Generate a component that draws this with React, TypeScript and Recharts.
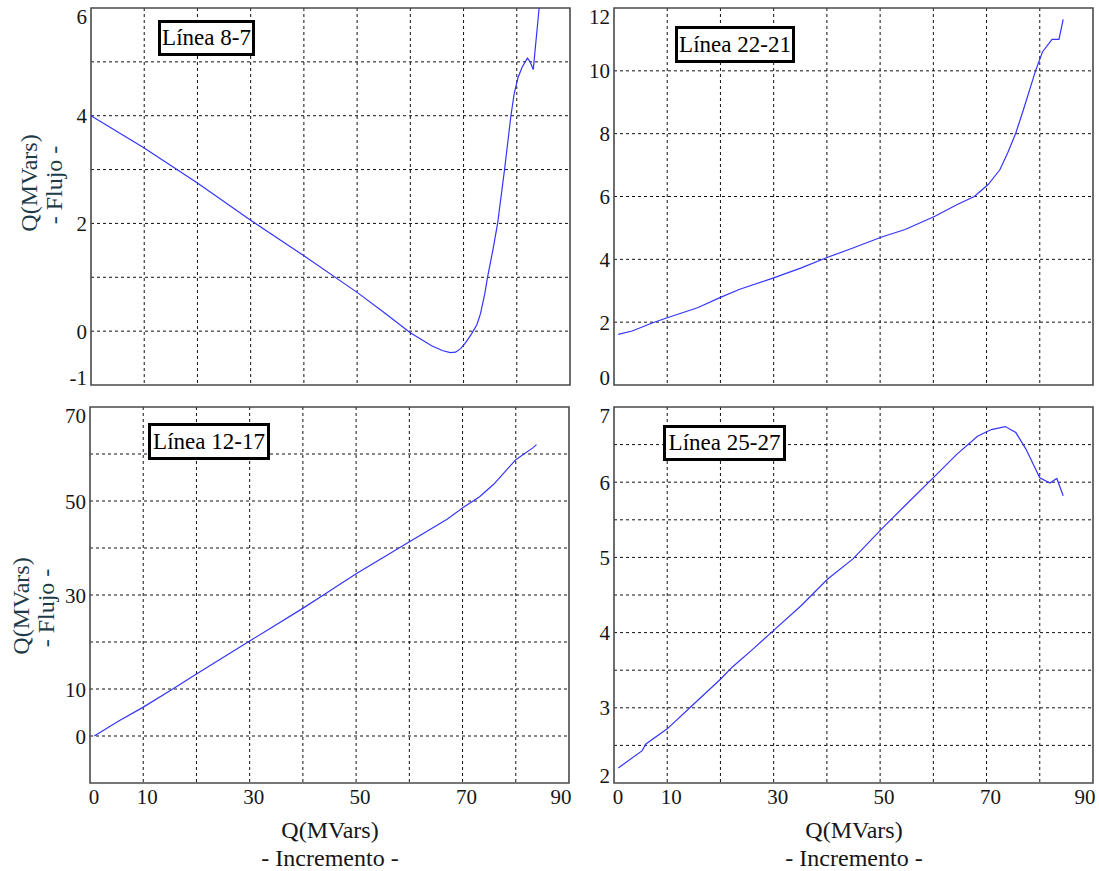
import { LineChart, Line, XAxis, YAxis, CartesianGrid, ReferenceArea } from 'recharts'

const FONT = '"Liberation Serif", "DejaVu Serif", serif'
const BLUE = '#3434ff'
const INK = '#161616'

// shared x axis: Q (MVars) increment
const xTicks = [0, 10, 30, 50, 70, 90]
const xGrid = [10, 20, 30, 40, 50, 60, 70, 80]

// Línea 8-7
const q87 = [0, 10, 20, 30, 40, 50, 55, 60, 62, 64, 66, 67.5, 68.5, 69.5, 70.5, 71.5, 72.5, 73.2, 74, 74.5, 75.5, 76.4, 77.7, 78.9, 79.5, 80.2, 81, 82, 82.5, 83.1, 84.2]
const flow87 = [4.0, 3.4, 2.75, 2.06, 1.4, 0.72, 0.35, -0.03, -0.15, -0.27, -0.36, -0.4, -0.39, -0.32, -0.2, -0.05, 0.12, 0.33, 0.7, 1.0, 1.5, 2.0, 3.0, 4.0, 4.4, 4.7, 4.9, 5.07, 5.0, 4.86, 6.0]
const yTicks87 = [-1, 0, 2, 4, 6]
const yGrid87 = [0, 1, 2, 3, 4, 5]

// Línea 22-21
const q2221 = [0.8, 3.4, 7.3, 10, 15.7, 19.9, 23.5, 30, 35.2, 39.9, 44.9, 50.3, 54.7, 60.3, 64.4, 67.7, 70.3, 72.5, 74, 75.5, 77, 79.2, 80.5, 82.3, 83.6, 84.4]
const flow2221 = [1.61, 1.72, 1.98, 2.14, 2.46, 2.78, 3.04, 3.41, 3.73, 4.05, 4.36, 4.71, 4.95, 5.37, 5.74, 6.0, 6.38, 6.85, 7.4, 8.02, 8.8, 10.0, 10.6, 11.0, 11.0, 11.64]
const yTicks2221 = [0, 2, 4, 6, 8, 10, 12]
const yGrid2221 = [2, 4, 6, 8, 10]

// Línea 12-17
const q1217 = [0.8, 5.4, 10.1, 15.4, 20, 30, 39.9, 44.3, 50, 60.1, 67.1, 70.1, 73.2, 75.8, 80, 83.2, 83.9]
const flow1217 = [0, 3.2, 6.2, 9.9, 13.2, 20.2, 27.1, 30.3, 34.5, 41.4, 46.1, 48.6, 50.9, 53.5, 58.8, 61.3, 62.0]
const yTicks1217 = [0, 10, 30, 50, 70]
const yGrid1217 = [0, 10, 20, 30, 40, 50, 60]

// Línea 25-27
const q2527 = [0.8, 5.3, 6.0, 10, 14.4, 20, 22.2, 26.1, 30, 35.2, 40.1, 44.9, 50.3, 54.7, 60.3, 64.4, 68.3, 70.9, 73.5, 75.5, 77.4, 80, 81.9, 83.2, 84.4]
const flow2527 = [2.2, 2.43, 2.52, 2.72, 3.01, 3.38, 3.54, 3.78, 4.03, 4.36, 4.71, 4.98, 5.38, 5.69, 6.08, 6.37, 6.61, 6.7, 6.74, 6.66, 6.44, 6.06, 5.99, 6.05, 5.82]
const yTicks2527 = [2, 3, 4, 5, 6, 7]
const yGrid2527 = [2.5, 3, 3.5, 4, 4.5, 5, 5.5, 6, 6.5]

const PLOT_W = 479
const YAXIS_W = 60
const M = { top: 10, right: 10, left: 0, bottom: 0 }

interface PanelProps {
  left: number
  top: number
  plotH: number
  q: number[]
  flow: number[]
  yDomain: [number, number]
  yTicks: number[]
  yGrid: number[]
  showX: boolean
  title: string
  box: { x: number; y: number; w: number; h: number }
}

function Panel({ left, top, plotH, q, flow, yDomain, yTicks, yGrid, showX, title, box }: PanelProps) {
  const data = q.map((x, i) => ({ q: x, flow: flow[i] }))
  const [lo, hi] = yDomain

  const yTick = (p: any) => {
    const v = p.payload.value
    const dy = v === hi ? 8 : v === lo ? -8 : 0
    return (
      <text x={p.x} y={p.y + dy} dy="0.36em" textAnchor="end" fontSize={21} fontFamily={FONT} fill={INK}>
        {v}
      </text>
    )
  }
  // top panels keep the axis (so the grid gets its ticks) but print no labels
  const xTick = (p: any) => {
    if (!showX) return <g />
    const v = p.payload.value
    const dx = v === 90 ? -8 : 4
    return (
      <text x={p.x + dx} y={p.y} dy="0.71em" textAnchor="middle" fontSize={21} fontFamily={FONT} fill={INK}>
        {v}
      </text>
    )
  }

  return (
    <>
      <div style={{ position: 'absolute', left: left - YAXIS_W, top: top - M.top }}>
        <LineChart width={YAXIS_W + PLOT_W + M.right} height={M.top + plotH + 40} data={data} margin={M}>
          <CartesianGrid
            stroke="#111"
            strokeDasharray="3 3"
            horizontalValues={yGrid}
            verticalValues={xGrid}
          />
          <XAxis
            dataKey="q"
            type="number"
            domain={[0, 90]}
            ticks={xTicks}
            height={40}
            axisLine={false}
            tickLine={false}
            tickSize={0}
            tickMargin={6}
            tick={xTick}
            interval={0}
          />
          <YAxis
            type="number"
            domain={yDomain}
            ticks={yTicks}
            width={YAXIS_W}
            axisLine={false}
            tickLine={false}
            tickSize={0}
            tickMargin={4}
            tick={yTick}
            interval={0}
            allowDataOverflow
          />
          <ReferenceArea
            x1={0}
            x2={90}
            y1={lo}
            y2={hi}
            fill="none"
            stroke="#4a4a4a"
            strokeWidth={1.6}
            ifOverflow="visible"
          />
          <Line
            type="linear"
            dataKey="flow"
            stroke={BLUE}
            strokeWidth={1.2}
            dot={false}
            isAnimationActive={false}
          />
        </LineChart>
      </div>
      <div
        style={{
          position: 'absolute',
          left: box.x,
          top: box.y,
          width: box.w,
          height: box.h,
          boxSizing: 'border-box',
          border: '3px solid #000',
          background: '#fff',
          display: 'flex',
          alignItems: 'center',
          justifyContent: 'center',
          fontFamily: FONT,
          fontSize: 23,
          color: '#000',
          whiteSpace: 'nowrap',
        }}
      >
        {title}
      </div>
    </>
  )
}

export default function App() {
  return (
    <div style={{ position: 'absolute', left: 0, top: 0, width: 1099, height: 871, background: '#fff', overflow: 'hidden' }}>
      <Panel
        left={91}
        top={8}
        plotH={377}
        q={q87}
        flow={flow87}
        yDomain={[-1, 6]}
        yTicks={yTicks87}
        yGrid={yGrid87}
        showX={false}
        title="Línea 8-7"
        box={{ x: 158, y: 20, w: 97, h: 36 }}
      />
      <Panel
        left={614}
        top={8}
        plotH={377}
        q={q2221}
        flow={flow2221}
        yDomain={[0, 12]}
        yTicks={yTicks2221}
        yGrid={yGrid2221}
        showX={false}
        title="Línea 22-21"
        box={{ x: 675, y: 26, w: 120, h: 37 }}
      />
      <Panel
        left={90}
        top={407}
        plotH={376}
        q={q1217}
        flow={flow1217}
        yDomain={[-10, 70]}
        yTicks={yTicks1217}
        yGrid={yGrid1217}
        showX
        title="Línea 12-17"
        box={{ x: 148, y: 423, w: 122, h: 37 }}
      />
      <Panel
        left={614}
        top={407}
        plotH={376}
        q={q2527}
        flow={flow2527}
        yDomain={[2, 7]}
        yTicks={yTicks2527}
        yGrid={yGrid2527}
        showX
        title="Línea 25-27"
        box={{ x: 663, y: 425, w: 123, h: 36 }}
      />
      <svg width={1099} height={871} style={{ position: 'absolute', left: 0, top: 0, pointerEvents: 'none' }}>
        <g fontFamily={FONT} fontSize={24} textAnchor="middle">
          <text transform="translate(29,183) rotate(-90)" dy="0.35em" fill="#1d3a48">Q(MVars)</text>
          <text transform="translate(54,185) rotate(-90)" dy="0.35em" fill="#1d3a48">- Flujo -</text>
          <text transform="translate(21,606) rotate(-90)" dy="0.35em" fill="#1d3a48">Q(MVars)</text>
          <text transform="translate(46,608) rotate(-90)" dy="0.35em" fill="#1d3a48">- Flujo -</text>
          <text x={330} y={830} dy="0.35em" fill={INK}>Q(MVars)</text>
          <text x={330} y={858} dy="0.35em" fill={INK}>- Incremento -</text>
          <text x={854} y={830} dy="0.35em" fill={INK}>Q(MVars)</text>
          <text x={854} y={858} dy="0.35em" fill={INK}>- Incremento -</text>
        </g>
      </svg>
    </div>
  )
}
